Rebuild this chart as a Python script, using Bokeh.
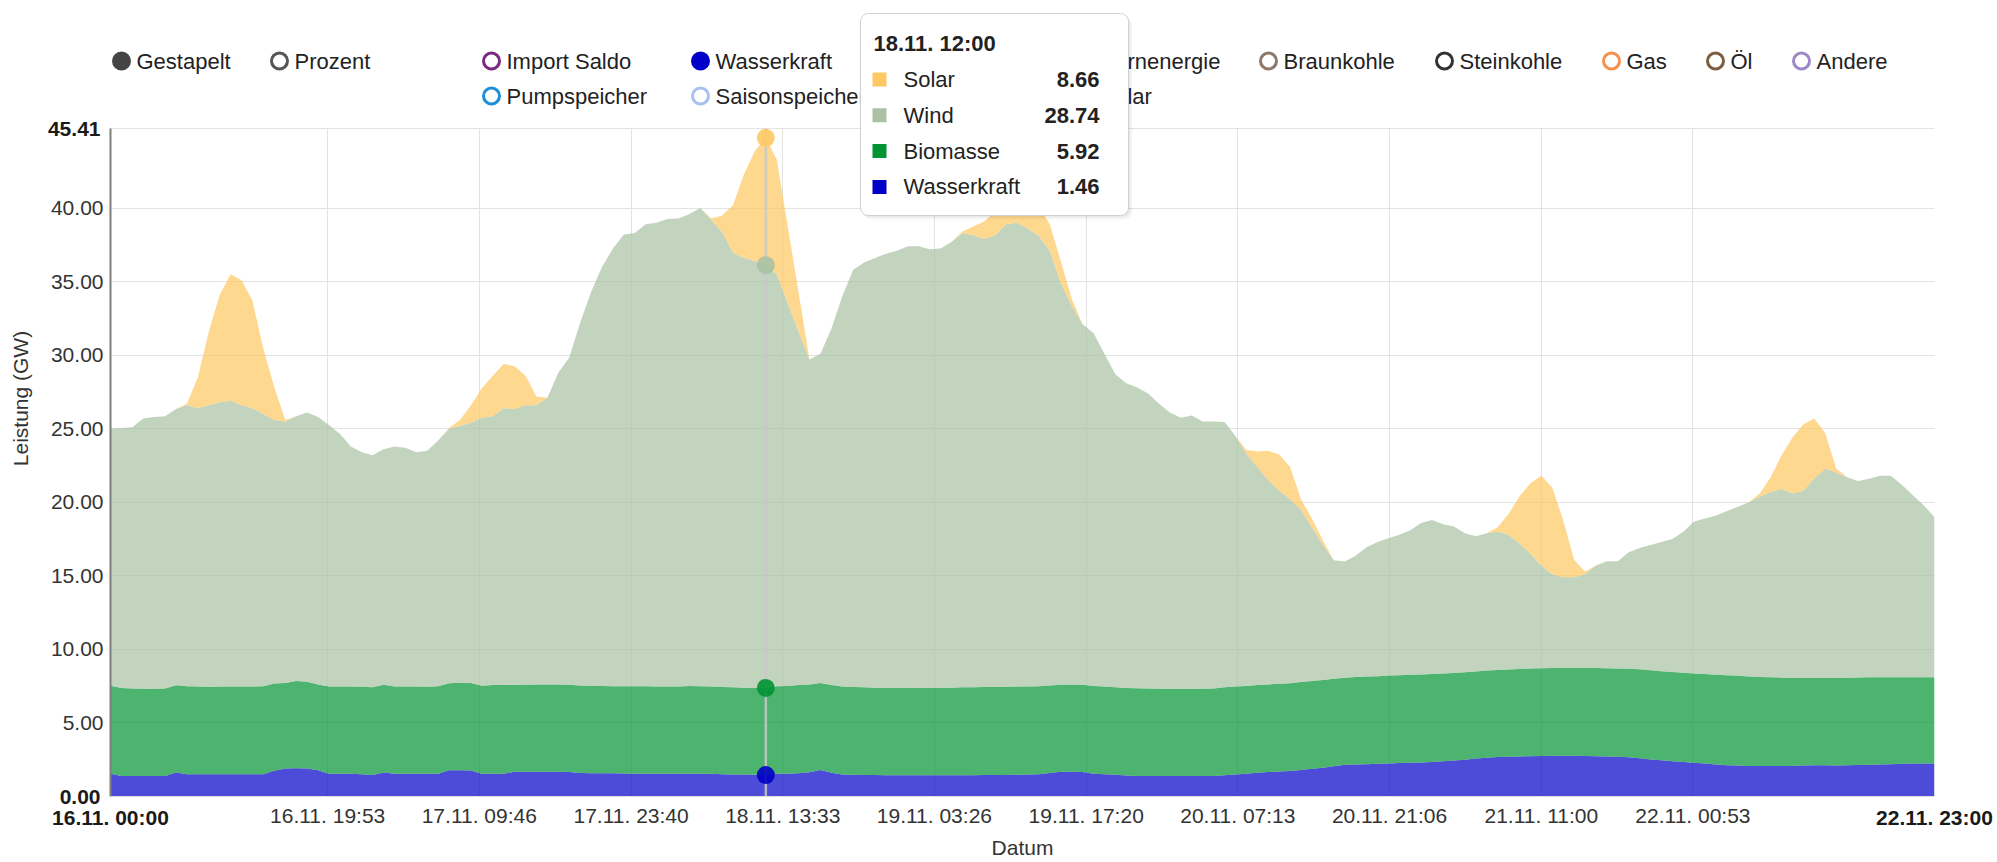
from bokeh.plotting import figure
from bokeh.models import (FixedTicker, Label, BoxAnnotation, Range1d, NumeralTickFormatter,
                          ColumnDataSource, LinearAxis, Grid)
from bokeh.embed import file_html
from bokeh.resources import INLINE
import numpy as np

# ---------------- data (GW, hourly from 16.11. 00:00) ----------------
start_label = "16.11. 00:00"
end_label = "22.11. 23:00"
x_tick_labels = ["16.11. 19:53", "17.11. 09:46", "17.11. 23:40", "18.11. 13:33", "19.11. 03:26",
                 "19.11. 17:20", "20.11. 07:13", "20.11. 21:06", "21.11. 11:00", "22.11. 00:53"]
y_ticks = [5, 10, 15, 20, 25, 30, 35, 40]
y_max = 45.41

series_names = ["Wasserkraft", "Biomasse", "Wind", "Solar"]

wasserkraft = [
    1.54, 1.40, 1.40, 1.40, 1.40, 1.40, 1.63, 1.51, 1.51, 1.51, 1.51, 1.51, 1.51, 1.51, 1.51, 1.75, 1.90, 1.92, 1.90, 1.78, 1.55, 1.55, 1.55, 1.52,
    1.46, 1.63, 1.55, 1.55, 1.55, 1.55, 1.55, 1.78, 1.78, 1.76, 1.55, 1.55, 1.55, 1.68, 1.68, 1.68, 1.68, 1.68, 1.66, 1.60, 1.58, 1.58, 1.58, 1.56,
    1.55, 1.55, 1.55, 1.55, 1.55, 1.55, 1.55, 1.55, 1.52, 1.50, 1.50, 1.48, 1.46, 1.55, 1.55, 1.58, 1.65, 1.80, 1.62, 1.50, 1.48, 1.47, 1.46, 1.45,
    1.45, 1.45, 1.44, 1.44, 1.44, 1.45, 1.45, 1.45, 1.46, 1.46, 1.46, 1.48, 1.50, 1.52, 1.60, 1.68, 1.68, 1.66, 1.55, 1.52, 1.48, 1.42, 1.40, 1.40,
    1.39, 1.39, 1.39, 1.39, 1.40, 1.40, 1.45, 1.50, 1.55, 1.62, 1.66, 1.70, 1.74, 1.80, 1.88, 1.95, 2.05, 2.15, 2.18, 2.20, 2.22, 2.25, 2.27, 2.29,
    2.31, 2.35, 2.40, 2.45, 2.50, 2.58, 2.64, 2.68, 2.70, 2.72, 2.74, 2.76, 2.77, 2.77, 2.77, 2.76, 2.74, 2.72, 2.70, 2.66, 2.60, 2.52, 2.46, 2.40,
    2.35, 2.30, 2.25, 2.18, 2.12, 2.10, 2.08, 2.08, 2.07, 2.07, 2.08, 2.10, 2.12, 2.12, 2.10, 2.12, 2.14, 2.16, 2.18, 2.20, 2.22, 2.24, 2.24, 2.25,
]

# upper edge of Biomasse (Wasserkraft + Biomasse)
biomasse_oben = [
    7.53, 7.38, 7.35, 7.33, 7.33, 7.35, 7.56, 7.50, 7.47, 7.45, 7.47, 7.48, 7.48, 7.47, 7.50, 7.68, 7.72, 7.85, 7.80, 7.62, 7.48, 7.47, 7.47, 7.46,
    7.42, 7.60, 7.47, 7.48, 7.48, 7.46, 7.50, 7.70, 7.74, 7.72, 7.53, 7.58, 7.58, 7.60, 7.60, 7.62, 7.62, 7.62, 7.60, 7.55, 7.53, 7.52, 7.50, 7.50,
    7.50, 7.50, 7.48, 7.48, 7.48, 7.52, 7.50, 7.48, 7.45, 7.42, 7.40, 7.38, 7.38, 7.50, 7.52, 7.58, 7.62, 7.72, 7.58, 7.48, 7.45, 7.42, 7.40, 7.40,
    7.39, 7.39, 7.38, 7.38, 7.38, 7.40, 7.42, 7.42, 7.44, 7.45, 7.46, 7.47, 7.48, 7.50, 7.55, 7.60, 7.62, 7.60, 7.52, 7.48, 7.42, 7.38, 7.36, 7.35,
    7.33, 7.33, 7.32, 7.32, 7.33, 7.35, 7.42, 7.48, 7.52, 7.58, 7.62, 7.66, 7.70, 7.78, 7.85, 7.92, 8.00, 8.08, 8.12, 8.15, 8.18, 8.22, 8.25, 8.28,
    8.30, 8.32, 8.36, 8.40, 8.45, 8.50, 8.56, 8.60, 8.63, 8.66, 8.70, 8.72, 8.73, 8.74, 8.74, 8.74, 8.73, 8.72, 8.70, 8.68, 8.65, 8.58, 8.52, 8.46,
    8.42, 8.36, 8.32, 8.28, 8.24, 8.20, 8.16, 8.12, 8.10, 8.08, 8.06, 8.05, 8.05, 8.06, 8.07, 8.08, 8.09, 8.10, 8.10, 8.10, 8.10, 8.10, 8.10, 8.10,
]

# upper edge of Wind (Wasserkraft + Biomasse + Wind)
wind_oben = [
    25.0, 25.05, 25.1, 25.7, 25.8, 25.85, 26.35, 26.6, 26.4, 26.6, 26.8, 26.9, 26.6, 26.4, 26.0, 25.6, 25.5, 25.85, 26.1, 25.8, 25.25, 24.66, 23.8, 23.4,
    23.2, 23.6, 23.8, 23.7, 23.4, 23.5, 24.2, 25.0, 25.2, 25.4, 25.75, 25.85, 26.4, 26.35, 26.6, 26.6, 27.1, 28.8, 29.85, 32.2, 34.3, 36.0, 37.25, 38.2,
    38.3, 38.9, 39.0, 39.25, 39.3, 39.6, 40.0, 39.2, 38.35, 36.96, 36.6, 36.4, 36.12, 35.5, 33.55, 31.6, 29.7, 30.1, 31.8, 34.0, 35.8, 36.3, 36.6, 36.9,
    37.1, 37.4, 37.4, 37.2, 37.25, 37.7, 38.3, 38.15, 37.9, 38.15, 38.9, 39.0, 38.6, 38.1, 37.1, 34.9, 33.4, 32.1, 31.5, 30.1, 28.7, 28.1, 27.8, 27.4,
    26.7, 26.1, 25.75, 25.9, 25.5, 25.5, 25.45, 24.5, 23.3, 22.4, 21.5, 20.8, 20.2, 19.5, 18.3, 17.1, 16.06, 15.97, 16.36, 16.95, 17.3, 17.55, 17.8, 18.1,
    18.6, 18.8, 18.5, 18.35, 17.9, 17.7, 17.9, 18.0, 17.8, 17.2, 16.5, 15.7, 15.1, 14.9, 14.9, 15.1, 15.7, 16.0, 16.0, 16.6, 16.9, 17.1, 17.3, 17.5,
    18.0, 18.7, 18.9, 19.1, 19.4, 19.7, 20.0, 20.4, 20.7, 20.9, 20.6, 20.8, 21.6, 22.3, 22.0, 21.7, 21.45, 21.6, 21.8, 21.8, 21.2, 20.5, 19.8, 19.0,
]

solar = [
    0, 0, 0, 0, 0, 0, 0, 0.1, 2.1, 5.0, 7.3, 8.6, 8.5, 7.3, 4.4, 2.2, 0.1, 0, 0, 0, 0, 0, 0, 0,
    0, 0, 0, 0, 0, 0, 0, 0.05, 0.4, 1.2, 2.0, 2.75, 3.0, 2.9, 2.0, 0.6, 0, 0, 0, 0, 0, 0, 0, 0,
    0, 0, 0, 0, 0, 0, 0, 0.1, 1.15, 3.25, 5.7, 7.5, 8.66, 7.8, 5.25, 2.65, 0, 0, 0, 0, 0, 0, 0, 0,
    0, 0, 0, 0, 0, 0, 0.1, 0.6, 1.2, 1.6, 2.0, 2.3, 2.2, 2.0, 1.8, 1.5, 0.45, 0, 0, 0, 0, 0, 0, 0,
    0, 0, 0, 0, 0, 0, 0, 0, 0.25, 1.05, 2.0, 2.45, 2.2, 0.7, 0.6, 0.3, 0, 0, 0, 0, 0, 0, 0, 0,
    0, 0, 0, 0, 0, 0, 0, 0.3, 1.4, 3.2, 4.8, 6.1, 5.9, 3.9, 1.2, 0.2, 0, 0, 0, 0, 0, 0, 0, 0,
    0, 0, 0, 0, 0, 0, 0, 0.2, 1.0, 2.3, 3.8, 4.5, 4.1, 2.4, 0.3, 0, 0, 0, 0, 0, 0, 0, 0, 0,
]

tooltip_label = "18.11. 12:00"

legend_top = ["Gestapelt", "Prozent"]
legend_row1 = ["Import Saldo", "Wasserkraft", "Biomasse", "Kernenergie", "Braunkohle",
               "Steinkohle", "Gas", "Öl", "Andere"]
legend_row2 = ["Pumpspeicher", "Saisonspeicher", "Wind", "Solar"]

# ---------------- styling ----------------
series_colors = {"Wasserkraft": "#0000c8", "Biomasse": "#009432", "Wind": "#aac2a3", "Solar": "#fdc860"}
legend_colors = {"Gestapelt": "#444444", "Prozent": "#555555",
                 "Import Saldo": "#7b2a82", "Wasserkraft": "#0000c8", "Biomasse": "#009432",
                 "Kernenergie": "#c8281e", "Braunkohle": "#8f7869", "Steinkohle": "#333333",
                 "Gas": "#f5914a", "Öl": "#7d5d40", "Andere": "#9f88c9",
                 "Pumpspeicher": "#1e8fd8", "Saisonspeicher": "#a9c0f2", "Wind": "#aac2a3", "Solar": "#fdc860"}
filled = {"Gestapelt", "Wasserkraft", "Biomasse", "Wind", "Solar"}
FONT = "Liberation Sans"
TXT = "#333333"
DARK = "#1a1a1a"


def hours_of(lbl):
    return (int(lbl[0:2]) - int(start_label[0:2])) * 24 + int(lbl[7:9]) + int(lbl[10:12]) / 60.0


n = len(wasserkraft)
t = np.arange(n, dtype=float)
wk = np.array(wasserkraft)
bio = np.array(biomasse_oben) - wk
wind = np.array(wind_oben) - np.array(biomasse_oben)
sol = np.array(solar)
src = ColumnDataSource(dict(t=t, Wasserkraft=wk, Biomasse=bio, Wind=wind, Solar=sol))

x_end = hours_of(end_label)
x_ticks = [hours_of(s) for s in x_tick_labels]

# canvas geometry (pixels)
W, H = 1996, 861
PLOT_L, PLOT_T, PLOT_R, PLOT_B = 110, 128, 1934, 796
# the frame reaches the canvas top so that legend and tooltip are drawn in it
y_top = y_max * PLOT_B / (PLOT_B - PLOT_T)

p = figure(width=W, height=H, x_range=Range1d(0, x_end), y_range=Range1d(0, y_top),
           output_backend="svg", toolbar_location=None, x_axis_type=None, y_axis_type=None,
           min_border_left=PLOT_L, min_border_top=0, min_border_right=W - PLOT_R, min_border_bottom=H - PLOT_B)
p.outline_line_color = None
p.background_fill_color = "white"
p.border_fill_color = "white"


def style_axis(ax, bold=False):
    ax.major_tick_line_color = None
    ax.minor_tick_line_color = None
    ax.major_tick_out = 0
    ax.major_tick_in = 0
    ax.minor_tick_out = 0
    ax.major_label_text_font = FONT
    ax.major_label_text_font_size = "21px"
    ax.major_label_text_color = DARK if bold else TXT
    ax.major_label_text_font_style = "bold" if bold else "normal"
    ax.axis_label_text_font = FONT
    ax.axis_label_text_font_size = "21px"
    ax.axis_label_text_font_style = "normal"
    ax.axis_label_text_color = TXT


# x axes: regular labels, then the bold first/last labels pulled up onto the same row
xa = LinearAxis(ticker=FixedTicker(ticks=x_ticks),
                major_label_overrides={h: s for h, s in zip(x_ticks, x_tick_labels)})
style_axis(xa)
xa.major_label_standoff = 7
xa.axis_line_color = "#dddddd"
p.add_layout(xa, "below")
xb = LinearAxis(ticker=FixedTicker(ticks=[0, x_end]),
                major_label_overrides={0: start_label, x_end: end_label}, axis_label="Datum")
style_axis(xb, bold=True)
xb.axis_line_color = None
xb.major_label_standoff = -24
xb.axis_label_standoff = 4
p.add_layout(xb, "below")

# y axes: regular labels, then bold 0.00 / 45.41 and the title
ya = LinearAxis(ticker=FixedTicker(ticks=y_ticks), formatter=NumeralTickFormatter(format="0.00"),
                bounds=(0, y_max))
style_axis(ya)
ya.major_label_standoff = 7
ya.axis_line_color = "#7f7f7f"
ya.axis_line_width = 2
p.add_layout(ya, "left")
yb = LinearAxis(ticker=FixedTicker(ticks=[0, y_max]), formatter=NumeralTickFormatter(format="0.00"),
                bounds=(0, y_max), axis_label="Leistung (GW)")
style_axis(yb, bold=True)
yb.axis_line_color = None
yb.major_label_standoff = -53
yb.axis_label_standoff = 13
p.add_layout(yb, "left")

# grids
xg = Grid(dimension=0, ticker=FixedTicker(ticks=x_ticks), grid_line_color="#e3e3e3", grid_line_width=1)
yg = Grid(dimension=1, ticker=FixedTicker(ticks=y_ticks + [y_max]), grid_line_color="#e3e3e3", grid_line_width=1)
if "cross_bounds" in Grid.properties():
    xg.cross_bounds = (0, y_max)
    p.add_layout(xg, "center")
else:
    p.segment(x0=x_ticks, y0=[0] * len(x_ticks), x1=x_ticks, y1=[y_max] * len(x_ticks),
              line_color="#e3e3e3", line_width=1, level="underlay")
p.add_layout(yg, "center")

# stacked areas
p.varea_stack(stackers=series_names, x="t", color=[series_colors[s] for s in series_names],
              fill_alpha=0.7, source=src)

# hover crosshair + markers at the tooltip time
sel = int(round(hours_of(tooltip_label)))
p.segment(x0=[t[sel]], y0=[0], x1=[t[sel]], y1=[y_max], line_color="#c8c8c8", line_width=2.5, line_alpha=0.85)
tops = np.cumsum([wk[sel], bio[sel], wind[sel], sol[sel]])
p.scatter(x=[t[sel]] * 4, y=list(tops), size=18, line_color=None, fill_alpha=0.9,
          fill_color=[series_colors[s] for s in series_names])


def cbox(l, r, tp, b, **kw):
    return BoxAnnotation(left=l, right=r, top=tp, bottom=b, left_units="canvas", right_units="canvas",
                         top_units="canvas", bottom_units="canvas", **kw)


def ctext(x, y, text, size="22px", style="normal", align="left", color="#222222"):
    return Label(x=x, y=y, x_units="canvas", y_units="canvas", text=text, text_font=FONT,
                 text_font_size=size, text_font_style=style, text_color=color,
                 text_align=align, text_baseline="middle")


# ---------------- legend ----------------
def legend_item(cx, cy, name):
    r = 8
    col = legend_colors[name]
    p.add_layout(cbox(cx - r, cx + r, cy - r, cy + r, border_radius=r,
                      fill_color=col if name in filled else "white", fill_alpha=1.0,
                      line_color=col, line_width=3, line_alpha=1.0))
    p.add_layout(ctext(cx + 15, cy, name))


row1_y, row2_y = 60.5, 95.5
for cx, name in zip([121, 279], legend_top):
    legend_item(cx, row1_y, name)
col_x = [491, 700, 917, 1085, 1268, 1444, 1611, 1715, 1801]
for cx, name in zip(col_x, legend_row1):
    legend_item(cx, row1_y, name)
for cx, name in zip(col_x, legend_row2):
    legend_item(cx, row2_y, name)

# ---------------- tooltip ----------------
bx0, by0, bx1, by1 = 860, 13, 1128, 215
for d, a in ((4, 0.035), (2, 0.05)):
    p.add_layout(cbox(bx0 + d - 1, bx1 + d, by0 + d, by1 + d, border_radius=8,
                      fill_color="black", fill_alpha=a, line_color=None))
p.add_layout(cbox(bx0, bx1, by0, by1, border_radius=8, fill_color="white", fill_alpha=1.0,
                  line_color="#d0d0d0", line_width=1, line_alpha=1.0))
p.add_layout(ctext(bx0 + 13, by0 + 30, tooltip_label, style="bold"))
vals = {"Solar": sol[sel], "Wind": wind[sel], "Biomasse": bio[sel], "Wasserkraft": wk[sel]}
for i, name in enumerate(["Solar", "Wind", "Biomasse", "Wasserkraft"]):
    cy = by0 + 66 + i * 35.8
    p.add_layout(cbox(bx0 + 12, bx0 + 26, cy - 7, cy + 7, fill_color=series_colors[name],
                      fill_alpha=1.0, line_color=None))
    p.add_layout(ctext(bx0 + 43, cy, name))
    p.add_layout(ctext(bx1 - 29, cy, f"{vals[name]:.2f}", style="bold", align="right"))

open("out.html", "w").write(file_html(p, INLINE))
